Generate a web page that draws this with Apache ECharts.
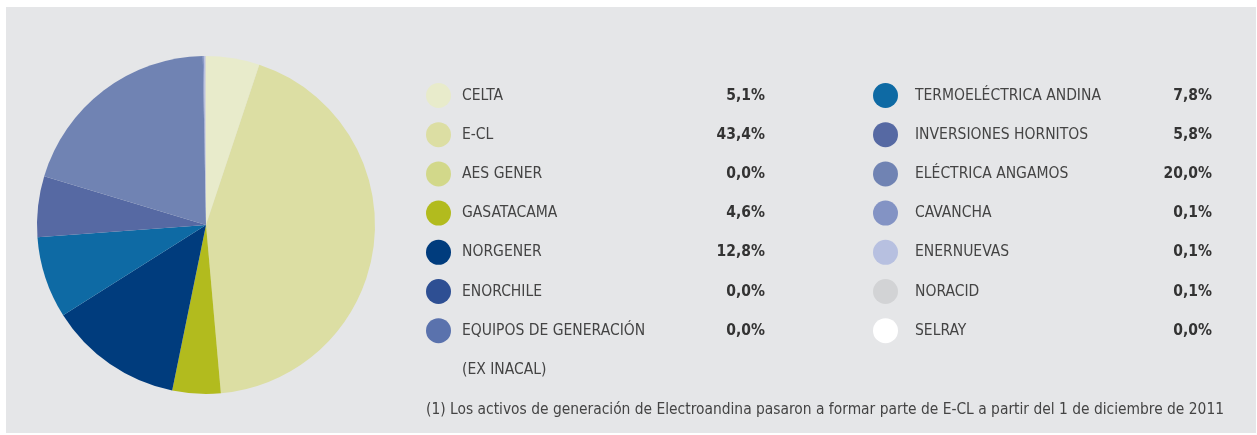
<!DOCTYPE html>
<html>
<head>
<meta charset="utf-8">
<script src="https://cdn.jsdelivr.net/npm/echarts@6/dist/echarts.min.js"></script>
<style>
  html, body { margin: 0; padding: 0; background: #fff; }
  #Pie { width: 1257px; height: 435px; }
</style>
</head>
<body>
<div id="Pie"></div>
<script>
// datos de la participación (%)
var nombres = ['CELTA', 'E-CL', 'AES GENER', 'GASATACAMA', 'NORGENER', 'ENORCHILE', 'EQUIPOS DE GENERACIÓN',
	'TERMOELÉCTRICA ANDINA', 'INVERSIONES HORNITOS', 'ELÉCTRICA ANGAMOS', 'CAVANCHA', 'ENERNUEVAS', 'NORACID', 'SELRAY'];
var valores = [5.1, 43.4, 0.0, 4.6, 12.8, 0.0, 0.0, 7.8, 5.8, 20.0, 0.1, 0.1, 0.1, 0.0];
var colores = ['#e8ebcb', '#dcdea3', '#d2d88a', '#b2bb1e', '#003c7d', '#2e4f93', '#5a72ad',
	'#0e6aa4', '#5669a3', '#7083b3', '#8393c4', '#b7c0e0', '#d2d3d5', '#ffffff'];
var nota = '(1) Los activos de generación de Electroandina pasaron a formar parte de E-CL a partir del 1 de diciembre de 2011';

var fuente = '"Liberation Sans Narrow", "DejaVu Sans Condensed", sans-serif';

var datos = nombres.map(function (n, i) {
	return { name: n, value: valores[i], itemStyle: { color: colores[i] } };
});

function fmt(name) {
	var i = nombres.indexOf(name);
	return '{n|' + name + '}{v|' + valores[i].toFixed(1).replace('.', ',') + '%}';
}

function leyenda(left, items, nameWidth, pad) {
	return {
		orient: 'vertical',
		left: left,
		top: 78,
		icon: 'circle',
		itemWidth: 25,
		itemHeight: 25,
		itemGap: 14.2,
		selectedMode: false,
		data: items,
		formatter: fmt,
		textStyle: {
			rich: {
				n: { fontFamily: fuente, fontSize: 15.5, color: '#444', width: nameWidth, padding: [0, 0, 0, pad] },
				v: { fontFamily: fuente, fontSize: 15.5, fontWeight: 'bold', color: '#333', width: 55, align: 'right' }
			}
		}
	};
}

var myChart = echarts.init(document.getElementById('Pie'));
var option = {
	backgroundColor: '#fff',
	animation: false,
	graphic: [
		{ type: 'rect', z: -10, shape: { x: 6, y: 7, width: 1250, height: 426 }, style: { fill: '#e5e6e8' } },
		{ type: 'text', x: 462, y: 370, style: { text: '(EX INACAL)', font: '15.5px ' + fuente, fill: '#444', verticalAlign: 'middle' } },
		{ type: 'text', x: 426, y: 410, style: { text: nota, font: '15.4px ' + fuente, fill: '#444', verticalAlign: 'middle' } }
	],
	legend: [
		leyenda(421, nombres.slice(0, 7), 248, 6),
		leyenda(868, nombres.slice(7), 242, 12)
	],
	series: [{
		type: 'pie',
		center: [206, 225],
		radius: [0, 169],
		startAngle: 90,
		clockwise: true,
		label: { show: false },
		labelLine: { show: false },
		emphasis: { disabled: true },
		itemStyle: { borderWidth: 0 },
		data: datos
	}]
};
myChart.setOption(option);
</script>
</body>
</html>
